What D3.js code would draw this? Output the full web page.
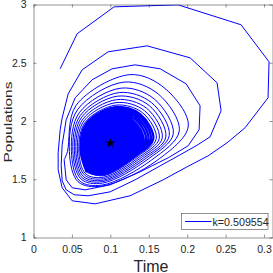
<!DOCTYPE html>
<html>
<head>
<meta charset="utf-8">
<script src="https://cdn.jsdelivr.net/npm/d3@7"></script>
<style>
  html, body { margin: 0; padding: 0; background: #fff; }
  svg { display: block; }
  text { font-family: "Liberation Sans Narrow", "Arial Narrow", "Liberation Sans", sans-serif; fill: #262626; }
</style>
</head>
<body>
<div id="canvas"></div>
<script>
// Banan (tid, population), yttre varven först
const orbitOuter = [
    [0.0347, 2.448], [0.0568, 2.749], [0.1049, 2.980], [0.1882, 2.997], [0.2701, 2.826], [0.3065, 2.508],
    [0.3052, 2.199], [0.2753, 1.942], [0.2519, 1.813], [0.2272, 1.701], [0.1999, 1.607], [0.1687, 1.495],
    [0.1257, 1.358], [0.0802, 1.289], [0.0503, 1.315], [0.0373, 1.427], [0.0321, 1.581], [0.0321, 1.727],
    [0.0347, 1.925],
    [0.0373, 2.027], [0.0451, 2.233], [0.0633, 2.439], [0.0971, 2.594], [0.1479, 2.645], [0.2038, 2.542],
    [0.2389, 2.328], [0.2441, 2.088], [0.2298, 1.864], [0.2116, 1.787], [0.1908, 1.710], [0.1648, 1.615],
    [0.1322, 1.495], [0.0997, 1.392], [0.0711, 1.358], [0.0529, 1.367], [0.0425, 1.409], [0.0373, 1.487],
    [0.0360, 1.624], [0.0373, 1.796],
    [0.0425, 2.010], [0.0542, 2.199], [0.0763, 2.354], [0.1023, 2.448], [0.1322, 2.482], [0.1648, 2.448],
    [0.1986, 2.319], [0.2168, 2.130], [0.2155, 1.925], [0.2012, 1.787], [0.1752, 1.684], [0.1388, 1.564],
    [0.0997, 1.452], [0.0672, 1.409], [0.0503, 1.427], [0.0425, 1.495], [0.0399, 1.667]
];

// Mellanvarven, fortfarande åtskilda linjer
const orbitMiddle = [
    [0.0441, 1.736], [0.0553, 2.133], [0.1254, 2.398], [0.1710, 2.280], [0.2014, 1.957], [0.1608, 1.662], [0.0888, 1.441], [0.0581, 1.478],
    [0.0467, 1.738], [0.0574, 2.098], [0.1179, 2.334], [0.1628, 2.229], [0.1897, 1.915], [0.1538, 1.666], [0.0893, 1.450], [0.0600, 1.486],
    [0.0493, 1.741], [0.0594, 2.070], [0.1139, 2.282], [0.1573, 2.188], [0.1819, 1.890], [0.1491, 1.673], [0.0899, 1.467], [0.0620, 1.501],
    [0.0512, 1.744], [0.0610, 2.048], [0.1115, 2.244], [0.1537, 2.157], [0.1767, 1.875], [0.1460, 1.678], [0.0902, 1.480], [0.0634, 1.513],
    [0.0532, 1.747], [0.0626, 2.032], [0.1094, 2.213], [0.1505, 2.133], [0.1722, 1.862], [0.1433, 1.683], [0.0906, 1.492], [0.0649, 1.524],
    [0.0551, 1.749], [0.0641, 2.015], [0.1081, 2.183], [0.1473, 2.109], [0.1676, 1.855], [0.1406, 1.688], [0.0910, 1.505], [0.0664, 1.536],
    [0.0571, 1.752], [0.0657, 2.001], [0.1076, 2.158], [0.1446, 2.088], [0.1637, 1.852], [0.1382, 1.693], [0.0914, 1.518], [0.0678, 1.547],
    [0.0590, 1.754], [0.0672, 1.989], [0.1072, 2.136], [0.1419, 2.071], [0.1598, 1.849], [0.1359, 1.698], [0.0918, 1.531], [0.0693, 1.559]
];

// Den täta kärnan kring jämvikten
const orbitCore = [
    [0.0610, 1.757], [0.0688, 1.980], [0.1067, 2.119], [0.1391, 2.057], [0.1559, 1.847], [0.1335, 1.704], [0.0922, 1.544], [0.0707, 1.571],
    [0.0629, 1.759], [0.0704, 1.971], [0.1063, 2.102], [0.1369, 2.044], [0.1527, 1.845], [0.1316, 1.709], [0.0926, 1.557], [0.0722, 1.582],
    [0.0649, 1.762], [0.0719, 1.961], [0.1059, 2.085], [0.1346, 2.030], [0.1494, 1.843], [0.1296, 1.714], [0.0930, 1.570], [0.0737, 1.594],
    [0.0668, 1.765], [0.0735, 1.952], [0.1055, 2.068], [0.1323, 2.016], [0.1462, 1.841], [0.1277, 1.719], [0.0934, 1.583], [0.0751, 1.605],
    [0.0688, 1.767], [0.0750, 1.942], [0.1051, 2.050], [0.1300, 2.002], [0.1429, 1.839], [0.1257, 1.724], [0.0938, 1.595], [0.0766, 1.617],
    [0.0707, 1.770], [0.0766, 1.933], [0.1048, 2.033], [0.1282, 1.989], [0.1403, 1.837], [0.1242, 1.729], [0.0941, 1.608], [0.0781, 1.628],
    [0.0727, 1.772], [0.0782, 1.923], [0.1045, 2.016], [0.1264, 1.975], [0.1377, 1.835], [0.1226, 1.735], [0.0945, 1.621], [0.0795, 1.640],
    [0.0746, 1.775], [0.0797, 1.916], [0.1042, 2.003], [0.1246, 1.965], [0.1351, 1.833], [0.1211, 1.740], [0.0949, 1.634], [0.0810, 1.652],
    [0.0766, 1.777], [0.0813, 1.909], [0.1039, 1.990], [0.1228, 1.954], [0.1325, 1.832], [0.1195, 1.745], [0.0953, 1.647], [0.0824, 1.663],
    [0.0785, 1.780], [0.0828, 1.902], [0.1036, 1.977], [0.1209, 1.944], [0.1299, 1.830], [0.1179, 1.750], [0.0957, 1.660], [0.0839, 1.675],
    [0.0805, 1.783], [0.0844, 1.895], [0.1033, 1.965], [0.1191, 1.934], [0.1273, 1.829], [0.1164, 1.755], [0.0961, 1.673], [0.0854, 1.686],
    [0.0824, 1.785], [0.0860, 1.888], [0.1030, 1.952], [0.1173, 1.923], [0.1247, 1.827], [0.1148, 1.760], [0.0965, 1.686], [0.0868, 1.698],
    [0.0844, 1.788], [0.0875, 1.881], [0.1027, 1.939], [0.1155, 1.913], [0.1221, 1.826], [0.1133, 1.765], [0.0969, 1.698], [0.0883, 1.710],
    [0.0863, 1.790], [0.0891, 1.874], [0.1023, 1.926], [0.1137, 1.903], [0.1195, 1.824], [0.1117, 1.771], [0.0973, 1.711], [0.0898, 1.721],
    [0.0883, 1.793], [0.0906, 1.867], [0.1020, 1.913], [0.1118, 1.892], [0.1169, 1.822], [0.1101, 1.776], [0.0977, 1.724], [0.0912, 1.733],
    [0.0902, 1.795], [0.0922, 1.860], [0.1017, 1.900], [0.1100, 1.882], [0.1143, 1.821], [0.1086, 1.781], [0.0980, 1.737], [0.0927, 1.744],
    [0.0922, 1.798], [0.0938, 1.853], [0.1014, 1.887], [0.1082, 1.872], [0.1117, 1.819], [0.1070, 1.786], [0.0984, 1.750], [0.0941, 1.756],
    [0.0941, 1.801], [0.0953, 1.845], [0.1011, 1.874], [0.1064, 1.862], [0.1091, 1.818], [0.1055, 1.791], [0.0988, 1.763], [0.0956, 1.768],
    [0.0961, 1.803], [0.0969, 1.838], [0.1008, 1.862], [0.1046, 1.851], [0.1065, 1.816], [0.1039, 1.796], [0.0992, 1.776], [0.0971, 1.779],
    [0.0974, 1.806], [0.0979, 1.829], [0.1005, 1.844], [0.1027, 1.837], [0.1039, 1.814], [0.1023, 1.801], [0.0995, 1.789], [0.0981, 1.791],
    [0.0987, 1.808], [0.0990, 1.819], [0.1002, 1.827], [0.1014, 1.824], [0.1020, 1.812], [0.1012, 1.806], [0.0997, 1.800], [0.0990, 1.801],
    [0.1000, 1.810]
];

const eqPoint = [0.1, 1.81];
const xTicks = [0, 0.05, 0.1, 0.15, 0.2, 0.25, 0.3];
const yTicks = [1, 1.5, 2, 2.5, 3];
const legendLabel = "k=0.509554";

const width = 273,
    height = 273,
    plotLeft = 33.5,
    plotRight = 272.5,
    plotTop = 4.5,
    plotBottom = 237.5;

let x = d3.scaleLinear()
    .domain([0, 0.311])
    .range([plotLeft, plotRight]);

let y = d3.scaleLinear()
    .domain([1, 3])
    .range([plotBottom, plotTop]);

let svg = d3.select('#canvas').append('svg')
    .attr('width', width)
    .attr('height', height)
    .style('background', '#fff');

svg.append('clipPath').attr('id', 'plotClip')
    .append('rect')
        .attr('x', plotLeft)
        .attr('y', plotTop)
        .attr('width', plotRight - plotLeft)
        .attr('height', plotBottom - plotTop);

// Spiralen: yttre delen rak, inre varven mjukt rundade
let plot = svg.append('g').attr('clip-path', 'url(#plotClip)');

let line = d3.line()
    .x(d => x(d[0]))
    .y(d => y(d[1]));

let smooth = d3.line()
    .x(d => x(d[0]))
    .y(d => y(d[1]))
    .curve(d3.curveCatmullRom.alpha(0.5));

let pieces = [
    { pts: orbitOuter, gen: line, w: 1 },
    { pts: [orbitOuter[orbitOuter.length - 1]].concat(orbitMiddle), gen: smooth, w: 1 },
    { pts: [orbitMiddle[orbitMiddle.length - 1]].concat(orbitCore), gen: smooth, w: 2.3 }
];

plot.selectAll('path.orbit').data(pieces)
    .enter().append('path')
        .attr('class', 'orbit')
        .attr('d', d => d.gen(d.pts))
        .attr('fill', 'none')
        .attr('stroke', '#0000ff')
        .attr('stroke-width', d => d.w)
        .attr('stroke-linejoin', 'round');

// Jämviktspunkten
svg.append('path')
    .attr('d', d3.symbol().type(d3.symbolStar).size(30))
    .attr('transform', 'translate(' + x(eqPoint[0]) + ',' + y(eqPoint[1]) + ')')
    .attr('fill', '#000');

// Axlar, ticks inåt på alla fyra sidor
let fmt = d => String(d);

let gx = svg.append('g')
    .attr('transform', 'translate(0,' + plotBottom + ')')
    .call(d3.axisBottom(x).tickValues(xTicks).tickFormat(fmt).tickSizeInner(-3).tickSizeOuter(0).tickPadding(8.5));

let gxTop = svg.append('g')
    .attr('transform', 'translate(0,' + plotTop + ')')
    .call(d3.axisTop(x).tickValues(xTicks).tickFormat('').tickSizeInner(-3).tickSizeOuter(0));

let gy = svg.append('g')
    .attr('transform', 'translate(' + plotLeft + ',0)')
    .call(d3.axisLeft(y).tickValues(yTicks).tickFormat(fmt).tickSizeInner(-3).tickSizeOuter(0).tickPadding(7));

let gyRight = svg.append('g')
    .attr('transform', 'translate(' + plotRight + ',0)')
    .call(d3.axisRight(y).tickValues(yTicks).tickFormat('').tickSizeInner(-3).tickSizeOuter(0));

[gx, gxTop, gy, gyRight].forEach(g => {
    g.attr('font-size', 10.5);
    g.selectAll('.domain, line')
        .attr('stroke', '#262626')
        .attr('stroke-width', 0.5);
});

// Axeltitlar
svg.append('text')
    .attr('x', 151)
    .attr('y', 271.5)
    .attr('text-anchor', 'middle')
    .attr('font-size', 16)
    .text('Time');

svg.append('text')
    .attr('transform', 'translate(11.5,122) rotate(-90)')
    .attr('text-anchor', 'middle')
    .style('font-family', '"Liberation Sans", sans-serif')
    .attr('font-size', 11.5)
    .attr('textLength', 81)
    .attr('lengthAdjust', 'spacingAndGlyphs')
    .text('Populations');

// Legend
let legend = svg.append('g');

legend.append('rect')
    .attr('x', 181.5)
    .attr('y', 213.5)
    .attr('width', 86.5)
    .attr('height', 16)
    .attr('fill', '#fff')
    .attr('stroke', '#262626')
    .attr('stroke-width', 0.5);

legend.append('line')
    .attr('x1', 185)
    .attr('x2', 211.5)
    .attr('y1', 221.5)
    .attr('y2', 221.5)
    .attr('stroke', '#0000ff')
    .attr('stroke-width', 1);

legend.append('text')
    .attr('x', 212.5)
    .attr('y', 225.5)
    .attr('font-size', 10.7)
    .text(legendLabel);
</script>
</body>
</html>
